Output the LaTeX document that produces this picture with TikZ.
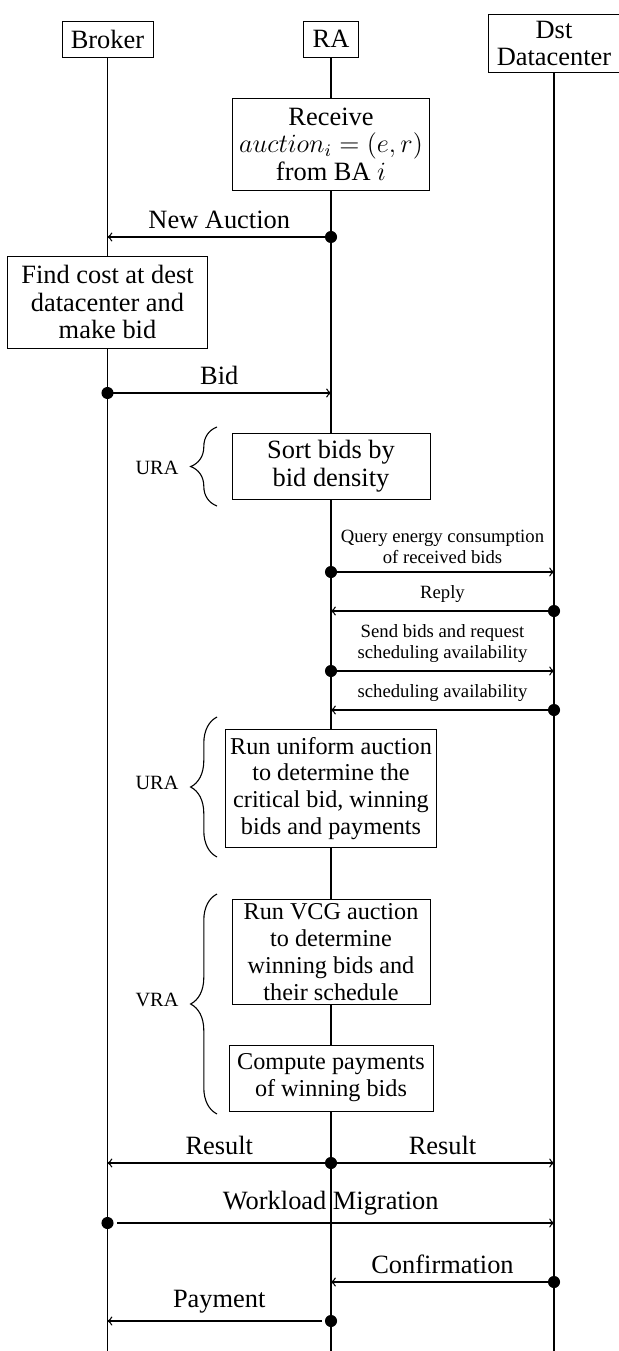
\documentclass[tikz,border=0pt]{standalone}
\usepackage{fontspec}
\setmainfont{Liberation Serif}
\usepackage{amsmath}
\usetikzlibrary{decorations.pathreplacing}

\newcommand{\bigtxt}{\fontsize{12}{12.5}\selectfont}
\newcommand{\midtxt}{\fontsize{11}{12.2}\selectfont}
\newcommand{\smalltxt}{\fontsize{8.5}{9.9}\selectfont}
\newcommand{\bracetxt}{\fontsize{9.2}{10}\selectfont}

\tikzset{
  actor/.style={draw, fill=white, font=\bigtxt, align=center, inner xsep=4pt, inner ysep=3pt, minimum height=16.4pt},
  task/.style={draw, fill=white, font=\bigtxt, align=center, inner sep=2pt},
  life/.style={line width=0.6pt},
  msg/.style={line width=0.6pt, ->},
  grpbrace/.style={decorate, decoration={brace, amplitude=12pt}, line width=0.5pt}
}

\begin{document}
\begin{tikzpicture}[x=0.4545pt, y=-0.4545pt]
      \useasboundingbox (0,0) rectangle (619,1351);
      \node[actor] (broker) at (107.5,39) {Broker};
      \node[actor] (ra) at (331,39) {RA};
      \node[actor] (dst) at (554,43.5) {Dst\\Datacenter};
      \coordinate (bot) at (0,1351);
      \draw[life] (broker.south) -- (broker |- bot);
      \draw[life] (ra.south) -- (ra |- bot);
      \draw[life] (dst.south) -- (dst |- bot);

      \coordinate (r1) at (0,237);
      \coordinate (r2) at (0,393);
      \coordinate (r3) at (0,572);
      \coordinate (r4) at (0,611);
      \coordinate (r5) at (0,671);
      \coordinate (r6) at (0,710);
      \coordinate (r7) at (0,1163);
      \coordinate (r8) at (0,1223);
      \coordinate (r9) at (0,1282);
      \coordinate (r10) at (0,1321);

      \node[task, minimum width=89.5pt, minimum height=41.8pt] (recv) at (331,144) {Receive\\$auction_i=(e,r)$\\from BA $i$};
      \draw[msg] (ra |- r1) -- (broker |- r1) node[midway, above, font=\bigtxt] (lnew) {New Auction};
      \fill (ra |- r1) circle (2.75pt);
      \node[task, minimum width=90.5pt, minimum height=41.8pt] (find) at (107.5,302) {Find cost at dest\\datacenter and\\make bid};
      \draw[msg] (broker |- r2) -- (ra |- r2) node[midway, above, font=\bigtxt] (lbid) {Bid};
      \fill (broker |- r2) circle (2.75pt);

      \node[task, minimum width=90pt, minimum height=30pt] (sort) at (331,466) {Sort bids by\\bid density};
      \draw[grpbrace] (217,506) -- (217,427);
      \node[font=\bracetxt] (ura1) at (157,468) {URA};

      \draw[msg] (ra |- r3) -- (dst |- r3) node[midway, above, font=\smalltxt, align=center] (lquery) {Query energy consumption\\of received bids};
      \fill (ra |- r3) circle (2.75pt);
      \draw[msg] (dst |- r4) -- (ra |- r4) node[midway, above, font=\smalltxt] (lreply) {Reply};
      \fill (dst |- r4) circle (2.75pt);
      \draw[msg] (ra |- r5) -- (dst |- r5) node[midway, above, font=\smalltxt, align=center] (lsend) {Send bids and request\\scheduling availability};
      \fill (ra |- r5) circle (2.75pt);
      \draw[msg] (dst |- r6) -- (ra |- r6) node[midway, above, font=\smalltxt] (lsched) {scheduling availability};
      \fill (dst |- r6) circle (2.75pt);

      \node[task, font=\midtxt, minimum width=95.5pt, minimum height=54pt] (unif) at (331,788.5) {Run uniform auction\\to determine the\\critical bid, winning\\bids and payments};
      \draw[grpbrace] (217,857) -- (217,717);
      \node[font=\bracetxt] (ura2) at (157,783) {URA};

      \node[task, font=\midtxt, minimum width=90pt, minimum height=46.4pt] (vcg) at (331,952) {Run VCG auction\\to determine\\winning bids and\\their schedule};
      \node[task, font=\midtxt, minimum width=92.7pt, minimum height=30pt] (pay) at (331,1078) {Compute payments\\of winning bids};
      \draw[grpbrace] (217,1114) -- (217,894);
      \node[font=\bracetxt] (vra) at (157,1000) {VRA};

      \draw[msg] (ra |- r7) -- (broker |- r7) node[midway, above, font=\bigtxt] (lres1) {Result};
      \draw[msg] (ra |- r7) -- (dst |- r7) node[midway, above, font=\bigtxt] (lres2) {Result};
      \fill (ra |- r7) circle (2.75pt);
      \draw[msg, shorten <=4.5pt] (broker |- r8) -- (dst |- r8) node[midway, above, font=\bigtxt] (lmig) {Workload Migration};
      \fill (broker |- r8) circle (2.75pt);
      \draw[msg] (dst |- r9) -- (ra |- r9) node[midway, above, font=\bigtxt] (lconf) {Confirmation};
      \fill (dst |- r9) circle (2.75pt);
      \draw[msg, shorten <=4pt] (ra |- r10) -- (broker |- r10) node[midway, above, font=\bigtxt] (lpay) {Payment};
      \fill (ra |- r10) circle (2.75pt);
    \end{tikzpicture}
\end{document}
